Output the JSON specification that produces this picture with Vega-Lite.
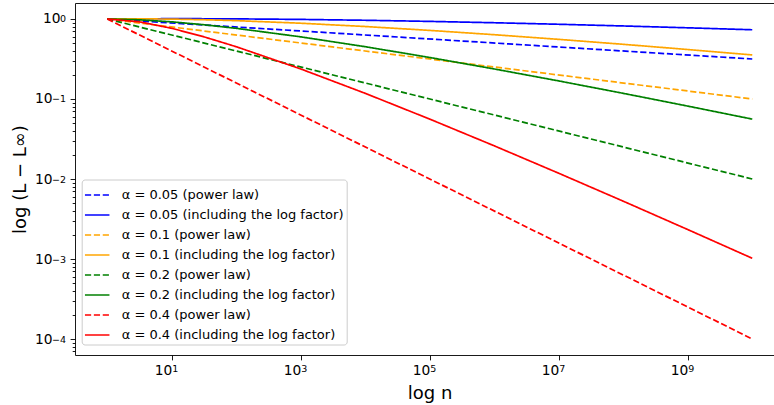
{
  "$schema": "https://vega.github.io/schema/vega-lite/v6.json",
  "width": 699,
  "height": 352,
  "autosize": "none",
  "padding": {"left": 75, "top": 3, "right": 0, "bottom": 50},
  "config": {
    "view": {"stroke": null},
    "font": "DejaVu Sans",
    "axis": {
      "grid": false,
      "domainColor": "#000000",
      "domainWidth": 0.9,
      "tickColor": "#000000",
      "tickWidth": 0.9,
      "tickSize": 5,
      "labelColor": "#000000",
      "labelFont": "DejaVu Sans",
      "labelFontSize": 13.8,
      "titleFont": "DejaVu Sans",
      "titleFontSize": 18,
      "titleFontWeight": "normal",
      "titleColor": "#000000"
    }
  },
  "data": {
    "values": [
      {"n": 1, "v": 1, "s": "α = 0.05 (power law)"},
      {"n": 10000000000, "v": 0.316228, "s": "α = 0.05 (power law)"},
      {"n": 1, "v": 1, "s": "α = 0.05 (including the log factor)"},
      {"n": 3.16228, "v": 1.0063, "s": "α = 0.05 (including the log factor)"},
      {"n": 10, "v": 1.0088, "s": "α = 0.05 (including the log factor)"},
      {"n": 31.6228, "v": 1.0079, "s": "α = 0.05 (including the log factor)"},
      {"n": 100, "v": 1.0039, "s": "α = 0.05 (including the log factor)"},
      {"n": 1000, "v": 0.9882, "s": "α = 0.05 (including the log factor)"},
      {"n": 10000, "v": 0.964, "s": "α = 0.05 (including the log factor)"},
      {"n": 100000, "v": 0.9333, "s": "α = 0.05 (including the log factor)"},
      {"n": 1000000, "v": 0.898, "s": "α = 0.05 (including the log factor)"},
      {"n": 10000000, "v": 0.8592, "s": "α = 0.05 (including the log factor)"},
      {"n": 100000000, "v": 0.8183, "s": "α = 0.05 (including the log factor)"},
      {"n": 1000000000, "v": 0.7761, "s": "α = 0.05 (including the log factor)"},
      {"n": 10000000000, "v": 0.7335, "s": "α = 0.05 (including the log factor)"},
      {"n": 1, "v": 1, "s": "α = 0.1 (power law)"},
      {"n": 10000000000, "v": 0.1, "s": "α = 0.1 (power law)"},
      {"n": 1, "v": 1, "s": "α = 0.1 (including the log factor)"},
      {"n": 3.16228, "v": 1.0052, "s": "α = 0.1 (including the log factor)"},
      {"n": 10, "v": 0.9974, "s": "α = 0.1 (including the log factor)"},
      {"n": 31.6228, "v": 0.9794, "s": "α = 0.1 (including the log factor)"},
      {"n": 100, "v": 0.9535, "s": "α = 0.1 (including the log factor)"},
      {"n": 1000, "v": 0.8855, "s": "α = 0.1 (including the log factor)"},
      {"n": 10000, "v": 0.8051, "s": "α = 0.1 (including the log factor)"},
      {"n": 100000, "v": 0.7204, "s": "α = 0.1 (including the log factor)"},
      {"n": 1000000, "v": 0.6364, "s": "α = 0.1 (including the log factor)"},
      {"n": 10000000, "v": 0.5565, "s": "α = 0.1 (including the log factor)"},
      {"n": 100000000, "v": 0.4826, "s": "α = 0.1 (including the log factor)"},
      {"n": 1000000000, "v": 0.4155, "s": "α = 0.1 (including the log factor)"},
      {"n": 10000000000, "v": 0.3556, "s": "α = 0.1 (including the log factor)"},
      {"n": 1, "v": 1, "s": "α = 0.2 (power law)"},
      {"n": 10000000000, "v": 0.01, "s": "α = 0.2 (power law)"},
      {"n": 1, "v": 1, "s": "α = 0.2 (including the log factor)"},
      {"n": 3.16228, "v": 0.9772, "s": "α = 0.2 (including the log factor)"},
      {"n": 10, "v": 0.9215, "s": "α = 0.2 (including the log factor)"},
      {"n": 31.6228, "v": 0.8474, "s": "α = 0.2 (including the log factor)"},
      {"n": 100, "v": 0.7648, "s": "α = 0.2 (including the log factor)"},
      {"n": 1000, "v": 0.5982, "s": "α = 0.2 (including the log factor)"},
      {"n": 10000, "v": 0.4504, "s": "α = 0.2 (including the log factor)"},
      {"n": 100000, "v": 0.3303, "s": "α = 0.2 (including the log factor)"},
      {"n": 1000000, "v": 0.2374, "s": "α = 0.2 (including the log factor)"},
      {"n": 10000000, "v": 0.1682, "s": "α = 0.2 (including the log factor)"},
      {"n": 100000000, "v": 0.1177, "s": "α = 0.2 (including the log factor)"},
      {"n": 1000000000, "v": 0.08154, "s": "α = 0.2 (including the log factor)"},
      {"n": 10000000000, "v": 0.05605, "s": "α = 0.2 (including the log factor)"},
      {"n": 1, "v": 1, "s": "α = 0.4 (power law)"},
      {"n": 10000000000, "v": 0.0001, "s": "α = 0.4 (power law)"},
      {"n": 1, "v": 1, "s": "α = 0.4 (including the log factor)"},
      {"n": 3.16228, "v": 0.9215, "s": "α = 0.4 (including the log factor)"},
      {"n": 10, "v": 0.7648, "s": "α = 0.4 (including the log factor)"},
      {"n": 31.6228, "v": 0.5982, "s": "α = 0.4 (including the log factor)"},
      {"n": 100, "v": 0.4504, "s": "α = 0.4 (including the log factor)"},
      {"n": 1000, "v": 0.2374, "s": "α = 0.4 (including the log factor)"},
      {"n": 10000, "v": 0.1177, "s": "α = 0.4 (including the log factor)"},
      {"n": 100000, "v": 0.05605, "s": "α = 0.4 (including the log factor)"},
      {"n": 1000000, "v": 0.02598, "s": "α = 0.4 (including the log factor)"},
      {"n": 10000000, "v": 0.0118, "s": "α = 0.4 (including the log factor)"},
      {"n": 100000000, "v": 0.00528, "s": "α = 0.4 (including the log factor)"},
      {"n": 1000000000, "v": 0.002333, "s": "α = 0.4 (including the log factor)"},
      {"n": 10000000000, "v": 0.001021, "s": "α = 0.4 (including the log factor)"}
    ]
  },
  "resolve": {"axis": {"x": "independent", "y": "independent"}},
  "layer": [
    {
      "mark": {"type": "line", "strokeWidth": 1.7, "clip": true},
      "encoding": {
        "x": {
          "field": "n",
          "type": "quantitative",
          "scale": {"type": "log", "domain": [0.316228, 21730000000], "nice": false, "zero": false},
          "axis": {
            "orient": "bottom",
            "values": [10, 1000, 100000, 10000000, 1000000000],
            "tickSize": 4.9,
            "labelPadding": 3.5,
            "labelAlign": "right",
            "labelDx": 5.8,
            "labelExpr": "'10'",
            "title": "log n",
            "titleX": 354.5,
            "titleY": 43,
            "titleBaseline": "alphabetic",
            "titleAnchor": null
          }
        },
        "y": {
          "field": "v",
          "type": "quantitative",
          "scale": {"type": "log", "domain": [0.000063096, 1.58489], "nice": false, "zero": false},
          "axis": {
            "orient": "left",
            "values": [0.00007, 0.00008, 0.00009, 0.0001, 0.0002, 0.0003, 0.0004, 0.0005, 0.0006, 0.0007, 0.0008, 0.0009, 0.001, 0.002, 0.003, 0.004, 0.005, 0.006, 0.007, 0.008, 0.009, 0.01, 0.02, 0.03, 0.04, 0.05, 0.06, 0.07, 0.08, 0.09, 0.1, 0.2, 0.3, 0.4, 0.5, 0.6, 0.7, 0.8, 0.9, 1],
            "tickSize": {"condition": {"test": "abs(log(datum.value)/LN10 - round(log(datum.value)/LN10)) < 0.000001", "value": 4.9}, "value": 2.8},
            "labelAlign": "right",
            "labelPadding": {"condition": {"test": "datum.value > 0.99", "value": 10}, "value": 18},
            "labelExpr": "abs(log(datum.value)/LN10 - round(log(datum.value)/LN10)) < 0.000001 ? '10' : ''",
            "title": "log (L − L∞)",
            "titleX": -50,
            "titleY": 176,
            "titleAngle": -90,
            "titleAlign": "center",
            "titleBaseline": "alphabetic",
            "titleAnchor": null
          }
        },
        "color": {
          "field": "s",
          "type": "nominal",
          "scale": {
            "domain": ["α = 0.05 (power law)", "α = 0.05 (including the log factor)", "α = 0.1 (power law)", "α = 0.1 (including the log factor)", "α = 0.2 (power law)", "α = 0.2 (including the log factor)", "α = 0.4 (power law)", "α = 0.4 (including the log factor)"],
            "range": ["#0000ff", "#0000ff", "#ffa500", "#ffa500", "#008000", "#008000", "#ff0000", "#ff0000"]
          },
          "legend": {
            "orient": "none",
            "legendX": 6.7,
            "legendY": 176.5,
            "title": null,
            "symbolType": "stroke",
            "symbolSize": 600,
            "symbolStrokeWidth": 1.5,
            "labelFont": "DejaVu Sans",
            "labelFontSize": 13,
            "labelColor": "#000000",
            "labelLimit": 400,
            "labelOffset": 11.5,
            "fillColor": "rgba(255,255,255,0.8)",
            "strokeColor": "#cccccc",
            "cornerRadius": 3,
            "padding": 2.5,
            "rowPadding": 0
          }
        },
        "strokeDash": {
          "field": "s",
          "type": "nominal",
          "scale": {
            "domain": ["α = 0.05 (power law)", "α = 0.05 (including the log factor)", "α = 0.1 (power law)", "α = 0.1 (including the log factor)", "α = 0.2 (power law)", "α = 0.2 (including the log factor)", "α = 0.4 (power law)", "α = 0.4 (including the log factor)"],
            "range": [[6.2, 2.7], [1, 0], [6.2, 2.7], [1, 0], [6.2, 2.7], [1, 0], [6.2, 2.7], [1, 0]]
          },
          "legend": {
            "orient": "none",
            "legendX": 6.7,
            "legendY": 176.5,
            "title": null,
            "symbolType": "stroke",
            "symbolSize": 600,
            "symbolStrokeWidth": 1.5,
            "labelFont": "DejaVu Sans",
            "labelFontSize": 13,
            "labelColor": "#000000",
            "labelLimit": 400,
            "labelOffset": 11.5,
            "fillColor": "rgba(255,255,255,0.8)",
            "strokeColor": "#cccccc",
            "cornerRadius": 3,
            "padding": 2.5,
            "rowPadding": 0
          }
        }
      }
    },
    {
      "mark": {"type": "point", "opacity": 0},
      "encoding": {
        "x": {
          "field": "n",
          "type": "quantitative",
          "axis": {
            "orient": "bottom",
            "values": [10, 1000, 100000, 10000000, 1000000000],
            "domain": false,
            "tickOpacity": 0,
            "tickSize": 4.9,
            "labelPadding": 3.5,
            "labelFontSize": 9.5,
            "labelAlign": "left",
            "labelDx": 5.8,
            "labelDy": -3,
            "labelExpr": "datum.value < 100 ? '1' : datum.value < 10000 ? '3' : datum.value < 1000000 ? '5' : datum.value < 100000000 ? '7' : '9'",
            "title": null
          }
        },
        "y": {
          "field": "v",
          "type": "quantitative",
          "axis": {
            "orient": "left",
            "values": [0.0001, 0.001, 0.01, 0.1, 1],
            "domain": false,
            "tickOpacity": 0,
            "tickSize": 5,
            "labelPadding": 4.5,
            "labelFontSize": 9.5,
            "labelAlign": "right",
            "labelDy": -3.5,
            "labelExpr": "abs(datum.value-1) < 1e-9 ? '0' : abs(datum.value-0.1) < 1e-12 ? '−1' : abs(datum.value-0.01) < 1e-12 ? '−2' : abs(datum.value-0.001) < 1e-12 ? '−3' : '−4'",
            "title": null
          }
        }
      }
    },
    {
      "mark": {"type": "point", "opacity": 0},
      "encoding": {
        "x": {
          "field": "n",
          "type": "quantitative",
          "axis": {"orient": "top", "labels": false, "ticks": false, "title": null}
        },
        "y": {"field": "v", "type": "quantitative", "axis": null}
      }
    }
  ]
}
